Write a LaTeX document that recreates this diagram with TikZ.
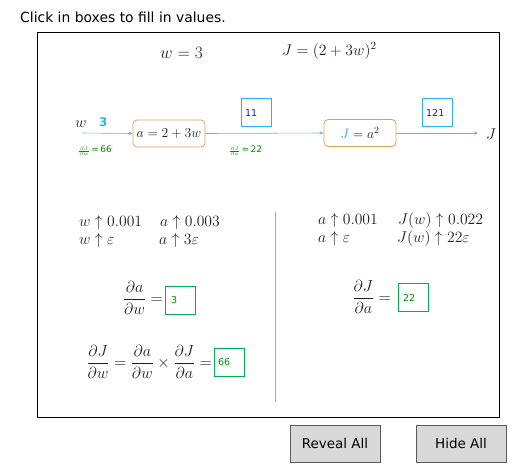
\RequirePackage{fix-cm}
\documentclass[tikz,border=0pt]{standalone}
\usepackage{fontspec}
\setmainfont{DejaVu Sans}
\usetikzlibrary{arrows.meta}
\definecolor{cyanbox}{RGB}{40,180,240}
\definecolor{flow}{RGB}{100,180,245}
\definecolor{orangeb}{RGB}{220,160,90}
\definecolor{greenb}{RGB}{0,176,80}
\definecolor{greent}{RGB}{0,140,0}
\definecolor{valblue}{RGB}{20,20,230}
\definecolor{jblue}{RGB}{30,150,240}
\definecolor{btnfill}{RGB}{217,217,217}
\definecolor{btnline}{RGB}{90,90,90}
\definecolor{divider}{RGB}{110,185,245}
\definecolor{mathc}{RGB}{30,30,30}
\tikzset{
  opbox/.style={draw=orangeb, line width=0.8pt, rounded corners=4pt, minimum width=72pt, minimum height=27pt, inner sep=1pt, text=mathc, font=\fontsize{13.6}{16}\selectfont},
  valbox/.style={draw=cyanbox, line width=1pt, minimum width=30pt, minimum height=28pt, inner sep=0pt},
  valtext/.style={anchor=west, text=valblue, font=\fontsize{9.5}{11}\selectfont, inner sep=0pt},
  ansbox/.style={draw=greenb, line width=0.9pt, minimum width=30pt, minimum height=28pt, inner sep=0pt},
  anstext/.style={anchor=west, text=greent, font=\fontsize{9.5}{11}\selectfont, inner sep=0pt},
  flowline/.style={draw=flow, line width=0.6pt, -{Stealth[length=4pt,width=3.5pt]}},
  mtext/.style={anchor=base west, inner sep=0pt, text=mathc, font=\fontsize{15.7}{18}\selectfont},
  dtext/.style={anchor=east, inner sep=0pt, text=mathc, font=\fontsize{16}{19}\selectfont},
  btn/.style={draw=btnline, fill=btnfill, minimum width=90pt, minimum height=37pt, font=\fontsize{13.5}{16}\selectfont},
  gradlbl/.style={anchor=west, inner sep=0pt, text=greent, font=\fontsize{9}{10}\selectfont}
}
\begin{document}
\begin{tikzpicture}[x=1pt,y=-1pt]
\useasboundingbox (0,0) rectangle (516,471);
\node[anchor=base west, inner sep=0pt, font=\fontsize{13.9}{16}\selectfont] (title) at (20,22) {Click in boxes to fill in values.};
\draw[black, line width=0.8pt] (37,32) rectangle (499,417);
\node[mtext, font=\fontsize{17.28}{20}\selectfont] (weq) at (160,58) {$w=3$};
\node[mtext] (jeq) at (282,55) {$J=(2+3w)^2$};
% graph
\node[mtext] (win) at (75,127) {$w$};
\node[anchor=base west, inner sep=0pt, text=cyanbox, font=\bfseries\fontsize{12}{14}\selectfont] (wval) at (99,126) {3};
\coordinate (wstart) at (82,133);
\node[opbox] (anode) at (169,133.5) {$a=2+3w$};
\node[opbox] (jnode) at (360,133) {$\textcolor{jblue}{J}=a^2$};
\node[mtext] (jout) at (486,139) {$J$};
\coordinate (jend) at (478,133);
\draw[flowline] (wstart) -- (anode.west);
\draw[flowline] (anode.east) -- (jnode.west);
\draw[flowline] (jnode.east) -- (jend);
\node[valbox] (b11) at (256,112) {};
\node[valtext] (t11) at (245,113) {11};
\node[valbox] (b121) at (437,112) {};
\node[valtext] (t121) at (426,113) {121};
\node[gradlbl] (gw) at (78,151) {{\tiny$\frac{\partial J}{\partial w}$}$\,$=\,66};
\node[gradlbl] (ga) at (229,151) {{\tiny$\frac{\partial J}{\partial a}$}$\,$=\,22};
% divider
\draw[divider, line width=0.9pt] (275,212) -- (275,402);
% left texts
\node[mtext] (l1a) at (79,226) {$w\uparrow 0.001$};
\node[mtext] (l1b) at (160,226) {$a\uparrow 0.003$};
\node[mtext] (l2a) at (79,244) {$w\uparrow\varepsilon$};
\node[mtext] (l2b) at (159,244) {$a\uparrow 3\varepsilon$};
\node[mtext] (r1a) at (318,224) {$a\uparrow 0.001$};
\node[mtext] (r1b) at (398,224) {$J(w)\uparrow 0.022$};
\node[mtext] (r2a) at (318,242) {$a\uparrow\varepsilon$};
\node[mtext] (r2b) at (397,242) {$J(w)\uparrow 22\varepsilon$};
% derivatives
\node[dtext] (dadw) at (163,298) {$\displaystyle\frac{\partial a}{\partial w}=$};
\node[ansbox] (b3) at (180,300) {};
\node[anstext] (t3) at (171,300) {3};
\node[dtext] (djda) at (391,297) {$\displaystyle\frac{\partial J}{\partial a}=$};
\node[ansbox] (b22) at (413,297) {};
\node[anstext] (t22) at (403,298) {22};
\node[dtext] (chain) at (212,362) {$\displaystyle\frac{\partial J}{\partial w}=\frac{\partial a}{\partial w}\times\frac{\partial J}{\partial a}=$};
\node[ansbox] (b66) at (229,362) {};
\node[anstext] (t66) at (218,362) {66};
% buttons
\node[btn] (reveal) at (335,443.5) {Reveal All};
\node[btn] (hide) at (461,443.5) {Hide All};
\end{tikzpicture}
\end{document}
